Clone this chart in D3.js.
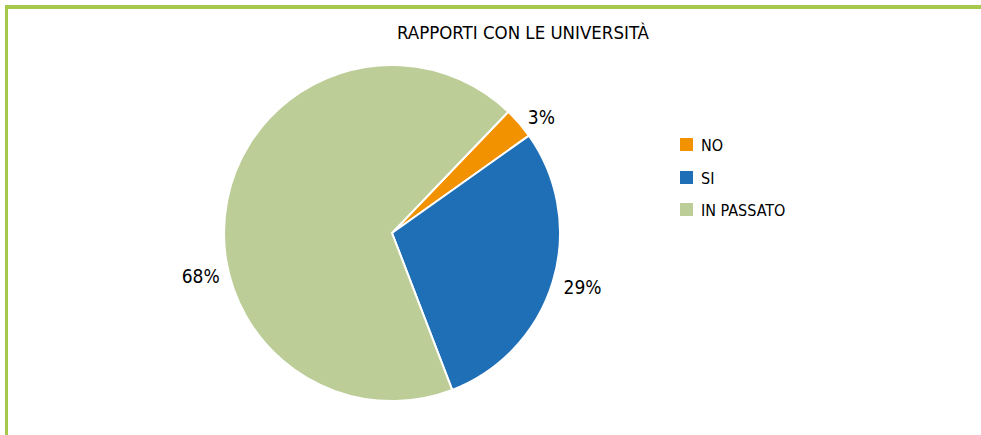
<!DOCTYPE html>
<html>
<head>
<meta charset="utf-8">
<script src="https://cdn.jsdelivr.net/npm/d3@7"></script>
<style>
  body { margin: 0; background: #fff; }
  text { font-family: "DejaVu Sans Condensed", "DejaVu Sans", sans-serif; fill: #000; }
</style>
</head>
<body>
<div id="chart"></div>
<script>
var categories = ["NO", "SI", "IN PASSATO"];
var values = [3, 29, 68];
var colors = ["#f39200", "#1f6fb7", "#bccd98"];
var title = "RAPPORTI CON LE UNIVERSITÀ";

var width = 981,
    height = 435,
    cx = 392, cy = 233, radius = 168;

var svg = d3.select("#chart").append("svg")
    .attr("width", width)
    .attr("height", height);

// frame (top and left edges only visible)
svg.append("line")
    .attr("x1", 5).attr("y1", 7).attr("x2", width).attr("y2", 7)
    .attr("stroke", "#a5c94b").attr("stroke-width", 4);
svg.append("line")
    .attr("x1", 6.5).attr("y1", 5).attr("x2", 6.5).attr("y2", height)
    .attr("stroke", "#a5c94b").attr("stroke-width", 3);

svg.append("text")
    .attr("x", 523).attr("y", 39)
    .attr("text-anchor", "middle")
    .attr("font-size", 18.5)
    .text(title);

var startDeg = 43.8;
var pie = d3.pie().sort(null)
    .startAngle(startDeg * Math.PI / 180)
    .endAngle((startDeg + 360) * Math.PI / 180);

var arc = d3.arc().innerRadius(0).outerRadius(radius);

var g = svg.append("g").attr("transform", "translate(" + cx + "," + cy + ")");
var arcs = pie(values);

g.selectAll("path")
  .data(arcs)
  .enter().append("path")
  .attr("d", arc)
  .attr("fill", function(d, i) { return colors[i]; })
  .attr("stroke", "#fff")
  .attr("stroke-width", 2);

// label placement: shift from slice mid angle (degrees), distance from centre
var labelShift = [3, -1, -24];
var labelDist = [189, 198, 196];
var total = d3.sum(values);

g.selectAll("text.pct")
  .data(arcs)
  .enter().append("text")
  .attr("class", "pct")
  .attr("text-anchor", "middle")
  .attr("dominant-baseline", "central")
  .attr("font-family", "'DejaVu Sans', sans-serif")
  .attr("font-size", 19)
  .attr("x", function(d, i) {
      var a = (d.startAngle + d.endAngle) / 2 + labelShift[i] * Math.PI / 180;
      return Math.sin(a) * labelDist[i];
  })
  .attr("y", function(d, i) {
      var a = (d.startAngle + d.endAngle) / 2 + labelShift[i] * Math.PI / 180;
      return -Math.cos(a) * labelDist[i];
  })
  .text(function(d) { return Math.round(d.data / total * 100) + "%"; });

// legend
var legend = svg.append("g").attr("transform", "translate(680,138)");
var item = legend.selectAll("g")
  .data(categories)
  .enter().append("g")
  .attr("transform", function(d, i) { return "translate(0," + [0, 33, 65][i] + ")"; });
item.append("rect")
  .attr("width", 13).attr("height", 13)
  .attr("fill", function(d, i) { return colors[i]; });
item.append("text")
  .attr("x", 21).attr("y", 7)
  .attr("dominant-baseline", "central")
  .attr("font-size", 16)
  .text(function(d) { return d; });
</script>
</body>
</html>
